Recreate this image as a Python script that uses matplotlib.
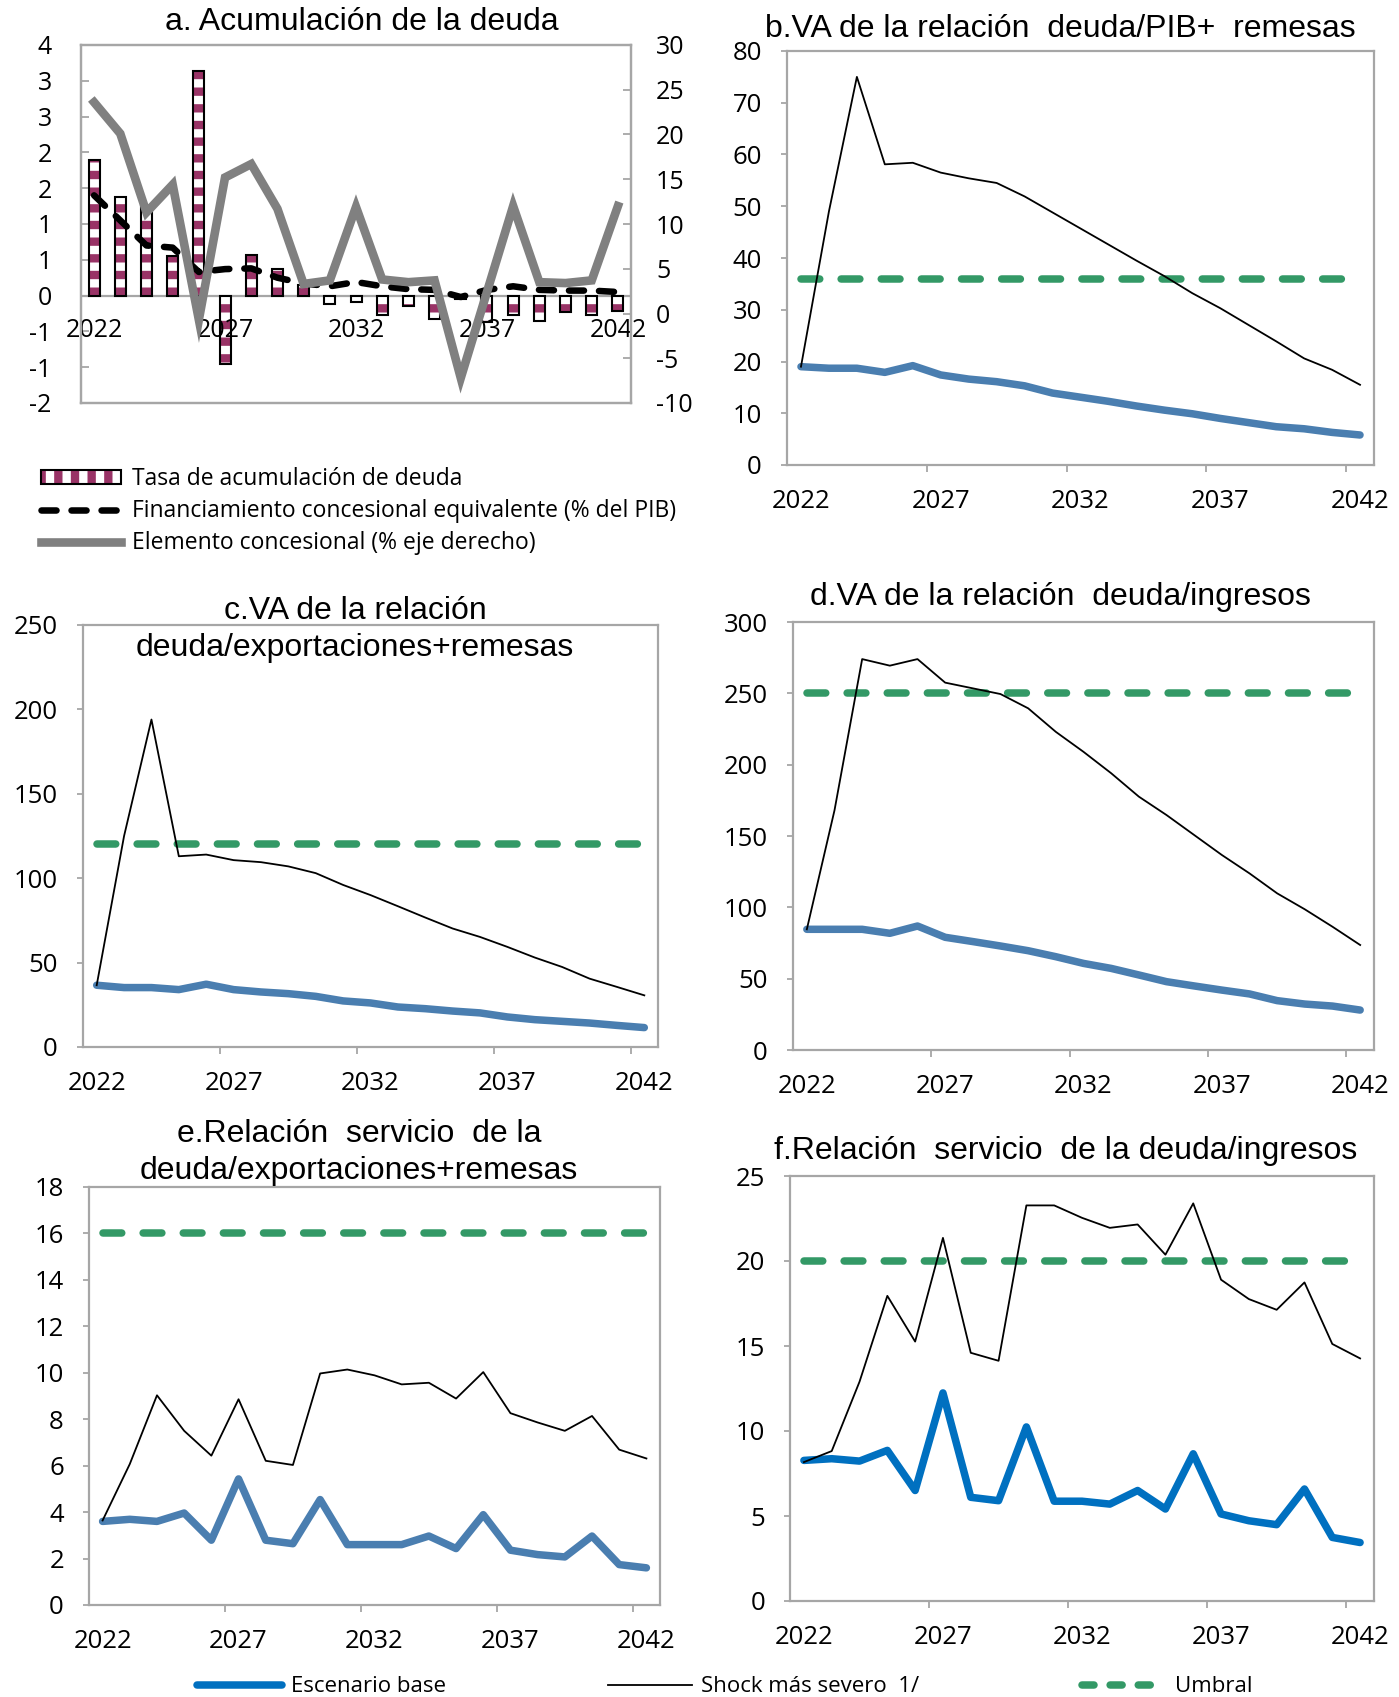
import numpy as np
import matplotlib
matplotlib.use("Agg")
import matplotlib.pyplot as plt
from matplotlib.lines import Line2D
from matplotlib.patches import Patch
from matplotlib.legend_handler import HandlerTuple

plt.rcParams['font.family'] = ['Open Sans', 'DejaVu Sans']
plt.rcParams['axes.unicode_minus'] = False
plt.rcParams['hatch.linewidth'] = 6

# ---- data -------------------------------------------------------------
years = list(range(2022, 2043))

# a. Acumulación de la deuda
tasa_acum = [1.89, 1.38, 1.25, 0.55, 3.14, -0.96, 0.57, 0.37, 0.15, -0.12, -0.09,
             -0.27, -0.15, -0.33, -0.05, -0.37, -0.27, -0.36, -0.23, -0.27, -0.21]
fin_conc = [1.40, 1.05, 0.70, 0.67, 0.33, 0.37, 0.38, 0.25, 0.17, 0.13, 0.19,
            0.13, 0.09, 0.08, -0.02, 0.08, 0.13, 0.08, 0.07, 0.07, 0.05]
elem_conc = [23.6, 20.1, 11.3, 14.4, -0.7, 15.2, 16.7, 11.7, 3.3, 3.7, 11.9,
             3.8, 3.5, 3.7, -7.2, 2.4, 12.0, 3.5, 3.4, 3.7, 12.0]
a_left_ticks = [-1.5, -1.0, -0.5, 0.0, 0.5, 1.0, 1.5, 2.0, 2.5, 3.0, 3.5]
a_left_labels = ['-2', '-1', '-1', '0', '1', '1', '2', '2', '3', '3', '4']

# b. deuda/PIB + remesas
shock_b = [19.0, 49, 75, 58.1, 58.4, 56.5, 55.4, 54.5, 51.9, 48.8, 45.7,
           42.6, 39.5, 36.5, 33.2, 30.3, 27.1, 23.9, 20.6, 18.4, 15.5]
base_b = [19.0, 18.7, 18.7, 17.9, 19.2, 17.4, 16.6, 16.1, 15.3, 13.9, 13.1,
          12.3, 11.4, 10.6, 9.9, 9.0, 8.2, 7.4, 7.0, 6.3, 5.8]
umbral_b = 36

# c. deuda/exportaciones + remesas
shock_c = [36.6, 125, 194, 113, 114, 110.7, 109.5, 107, 103, 96, 90,
           83.4, 76.7, 70.2, 65.2, 59.3, 53, 47.4, 40.5, 35.6, 30.6]
base_c = [36.6, 35.2, 35.2, 34, 37.2, 34, 32.6, 31.6, 30, 27.3, 26.1,
          23.7, 22.7, 21.3, 20.2, 17.8, 16.2, 15.2, 14.2, 12.8, 11.5]
umbral_c = 120

# d. deuda/ingresos
shock_d = [84.6, 168, 274, 269.4, 274, 257.5, 253.5, 249.5, 239.5, 223, 209,
           194, 177.6, 164.7, 150.7, 136.7, 123.8, 109.8, 98.6, 86.4, 73.6]
base_d = [84.6, 84.6, 84.6, 81.8, 86.9, 79, 76, 72.9, 69.6, 65.4, 60.7,
          57.2, 52.6, 47.9, 44.9, 42, 39.3, 34.6, 32.2, 30.8, 28]
umbral_d = 250

# e. servicio de la deuda/exportaciones + remesas
shock_e = [3.64, 6.07, 9.03, 7.5, 6.43, 8.86, 6.21, 6.03, 9.97, 10.14, 9.89,
           9.5, 9.57, 8.89, 10.03, 8.26, 7.86, 7.5, 8.14, 6.69, 6.31]
base_e = [3.6, 3.69, 3.6, 3.96, 2.79, 5.43, 2.79, 2.64, 4.54, 2.6, 2.6,
          2.6, 2.97, 2.43, 3.89, 2.36, 2.17, 2.07, 2.97, 1.74, 1.6]
umbral_e = 16

# f. servicio de la deuda/ingresos
shock_f = [8.17, 8.82, 12.9, 17.95, 15.26, 21.36, 14.6, 14.13, 23.27, 23.27, 22.54,
           21.95, 22.15, 20.37, 23.39, 18.9, 17.76, 17.13, 18.74, 15.12, 14.27]
base_f = [8.27, 8.37, 8.23, 8.86, 6.5, 12.24, 6.1, 5.9, 10.24, 5.87, 5.87,
          5.7, 6.5, 5.41, 8.66, 5.12, 4.72, 4.49, 6.59, 3.74, 3.44]
umbral_f = 20

# ---- style --------------------------------------------------------------
SPINE = '#A6A6A6'
GREEN = '#339966'
STEEL = '#4A7EB0'
BLUE = '#0070C0'
MAROON = '#993366'
GRAY = '#808080'
TITLE_FONT = 'Liberation Sans'
TICK_SIZE = 18.5

W, H = 1399, 1697
fig = plt.figure(figsize=(W / 100, H / 100), dpi=100)


def px_axes(l, r, t, b):
    return fig.add_axes([l / W, 1 - b / H, (r - l) / W, (b - t) / H])


def frame(ax):
    for s in ax.spines.values():
        s.set_color(SPINE)
        s.set_linewidth(1.6)


def title(x, y, txt):
    fig.text(x / W, 1 - y / H, txt, ha='center', va='center',
             fontsize=23, family=TITLE_FONT)


x = np.arange(len(years))


def line_panel(rect, base, shock, umbral, ylim, ystep, base_color):
    ax = px_axes(*rect)
    ax.plot(x, [umbral] * len(x), color=GREEN, lw=5.4, dashes=(2.5, 2.85),
            dash_capstyle='round', zorder=2)
    ax.plot(x, base, color=base_color, lw=5.4, solid_capstyle='round',
            solid_joinstyle='round', zorder=3)
    ax.plot(x, shock, color='black', lw=1.3, zorder=4)
    ax.set_xlim(-0.5, len(x) - 0.5)
    ax.set_ylim(*ylim)
    ax.set_yticks(np.arange(ylim[0], ylim[1] + ystep / 2, ystep))
    ax.set_xticks(x[::5])
    ax.set_xticklabels([str(years[i]) for i in x[::5]])
    ax.set_xticks([4.5, 9.5, 14.5, 19.5], minor=True)
    ax.tick_params(axis='x', which='major', length=0, pad=17, labelsize=TICK_SIZE)
    ax.tick_params(axis='x', which='minor', length=5, width=1.3,
                   color=SPINE, direction='out')
    ax.tick_params(axis='y', length=4, width=1.3, color=SPINE, pad=14,
                   labelsize=TICK_SIZE)
    frame(ax)
    return ax


# ---- a ------------------------------------------------------------------
ax_a = px_axes(81, 631, 45, 403)
ax_a.axhline(0, color=SPINE, lw=1.6, zorder=1)
ax_a.bar(x, tasa_acum, width=0.42, color='white', edgecolor=MAROON,
         hatch='-', lw=0, zorder=2)
ax_a.bar(x, tasa_acum, width=0.42, fill=False, edgecolor='black', lw=1.5, zorder=3)
ax_a.plot(x, fin_conc, color='black', lw=4.7, dashes=(2.3, 2.3),
          dash_capstyle='round', zorder=4)
ax_a.set_xlim(-0.5, len(x) - 0.5)
ax_a.set_ylim(-1.5, 3.5)
ax_a.set_yticks(a_left_ticks)
ax_a.set_yticklabels(a_left_labels)
ax_a.set_xticks([])
ax_a.tick_params(axis='y', direction='in', length=6, width=1.3, color=SPINE,
                 pad=21, labelsize=18)
for i in x[::5]:
    ax_a.annotate(str(years[i]), (i, 0), xytext=(0, -25), textcoords='offset points',
                  ha='center', va='center', fontsize=18, zorder=6)
frame(ax_a)

ax_a2 = ax_a.twinx()
ax_a2.plot(x, elem_conc, color=GRAY, lw=6.2, solid_joinstyle='miter', zorder=5)
ax_a2.set_ylim(-10, 30)
ax_a2.set_yticks(np.arange(-10, 31, 5))
ax_a2.tick_params(axis='y', direction='in', length=6, width=1.3, color=SPINE,
                  pad=18, labelsize=18)
frame(ax_a2)

title(362, 22, 'a. Acumulación de la deuda')

h_bar = (Patch(facecolor='white', edgecolor=MAROON, hatch='|', lw=0),
         Patch(fill=False, edgecolor='black', lw=1.5))
h_fin = Line2D([], [], color='black', lw=4.7, dashes=(2.3, 2.3), dash_capstyle='round')
h_elem = Line2D([], [], color=GRAY, lw=6.2)
ax_a.legend([h_bar, h_fin, h_elem],
            ['Tasa de acumulación de deuda',
             'Financiamiento concesional equivalente (% del PIB)',
             'Elemento concesional (% eje derecho)'],
            handler_map={tuple: HandlerTuple(ndivide=1, pad=0)},
            loc='upper left', bbox_to_anchor=(41 / W, 1 - 467 / H),
            bbox_transform=fig.transFigure, frameon=False, fontsize=16.5,
            borderpad=0, borderaxespad=0, handlelength=3.5, handletextpad=0.45,
            labelspacing=0.35, handleheight=0.55)

# ---- b..f ---------------------------------------------------------------
line_panel((787, 1374, 51, 465), base_b, shock_b, umbral_b, (0, 80), 10, STEEL)
title(1060, 29, 'b.VA de la relación  deuda/PIB+  remesas')

line_panel((83, 658, 625, 1047), base_c, shock_c, umbral_c, (0, 250), 50, STEEL)
title(355, 611, 'c.VA de la relación')
title(355, 648, 'deuda/exportaciones+remesas')

line_panel((793, 1374, 622, 1050), base_d, shock_d, umbral_d, (0, 300), 50, STEEL)
title(1060, 597, 'd.VA de la relación  deuda/ingresos')

line_panel((89, 660, 1187, 1605), base_e, shock_e, umbral_e, (0, 18), 2, STEEL)
title(359, 1134, 'e.Relación  servicio  de la')
title(359, 1171, 'deuda/exportaciones+remesas')

line_panel((790, 1374, 1176, 1601), base_f, shock_f, umbral_f, (0, 25), 5, BLUE)
title(1066, 1151, 'f.Relación  servicio  de la deuda/ingresos')

# ---- bottom legend --------------------------------------------------------
h_base = Line2D([], [], color=BLUE, lw=5.4, solid_capstyle='round')
h_shock = Line2D([], [], color='black', lw=1.3)
h_umbral = Line2D([], [], color=GREEN, lw=5.4, dashes=(1.6, 2.15), dash_capstyle='round')
fig.legend([h_base, h_shock, h_umbral],
           ['Escenario base', 'Shock más severo  1/', 'Umbral'],
           loc='center', bbox_to_anchor=(725 / W, 1 - 1687 / H), ncol=3,
           frameon=False, fontsize=16, borderpad=0, handlelength=3.8,
           handletextpad=0.4, columnspacing=7.3)

fig.savefig('out.png', dpi=100)
